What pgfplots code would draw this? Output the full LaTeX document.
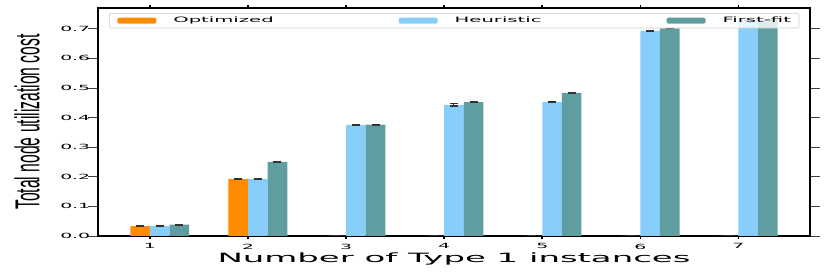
\documentclass[border=0pt]{standalone}
\usepackage{pgfplots}
\pgfplotsset{compat=1.18}
\usepackage{fontspec}
\setmainfont{DejaVu Sans}
\newfontfamily\libfont{Liberation Sans}
\usepackage{graphicx}
\newcommand\sx[1]{\scalebox{2.65}[1]{#1}}
\definecolor{copt}{HTML}{FF8C00}
\definecolor{cheu}{HTML}{87CEFA}
\definecolor{cff}{HTML}{5F9EA0}
\begin{document}
\begin{tikzpicture}[x=1pt,y=1pt]
\useasboundingbox (-98,-37) rectangle (733,236);
\begin{axis}[
  at={(0,0)}, anchor=south west,
  scale only axis, width=712pt, height=228pt,
  xmin=0.47, xmax=7.73, ymin=0, ymax=0.77,
  xtick={1,2,3,4,5,6,7},
  xticklabels={\sx{1},\sx{2},\sx{3},\sx{4},\sx{5},\sx{6},\sx{7}},
  ytick={0,0.1,0.2,0.3,0.4,0.5,0.6,0.7},
  yticklabels={\sx{0.0},\sx{0.1},\sx{0.2},\sx{0.3},\sx{0.4},\sx{0.5},\sx{0.6},\sx{0.7}},
  tick align=outside,
  tick label style={font=\fontsize{7.1}{8}\selectfont},
  xtick style={black, line width=1.6pt, /pgfplots/major tick length=3.5pt},
  ytick style={black!75, line width=0.7pt, /pgfplots/major tick length=9.5pt},
  x axis line style={black!65, line width=0.7pt},
  y axis line style={black, line width=1.6pt},
  xlabel={\sx{Number of Type 1 instances}},
  xlabel style={font=\fontsize{12.8}{14}\selectfont, at={(rel axis cs:0.5,0)}, anchor=base, yshift=-27pt, inner sep=0pt},
  ylabel={\scalebox{1}[2.2]{\libfont\fontsize{15.7}{17}\selectfont Total node utilization cost}},
  ylabel style={at={(rel axis cs:0,0.5)}, anchor=south, yshift=58pt, inner sep=0pt},
  legend columns=3,
  legend cell align=left,
  legend style={at={(0.0155,0.978)}, anchor=north west,
    fill=white, fill opacity=0.8, text opacity=1, draw opacity=1,
    draw=black!20, rounded corners=2pt, line width=0.6pt,
    inner xsep=8pt, inner ysep=3.8pt,
    font=\fontsize{7.4}{8}\selectfont,
    nodes={inner sep=0pt},
    /tikz/every odd column/.append style={column sep=17pt},
    /tikz/every even column/.append style={column sep=125pt}},
  error bars/y dir=both, error bars/y explicit,
  error bars/error bar style={black!80, line width=1pt},
  error bars/error mark options={rotate=90, mark size=4pt, line width=1.2pt, black!80},
]
\addplot[ybar, bar width=0.2, bar shift=0pt, fill=copt, draw=none,
  legend image code/.code={\fill[copt, fill opacity=1] (0pt,-3pt) rectangle (39pt,3pt);}]
  coordinates {(0.9,0.033) +- (0,0.001) (1.9,0.193) +- (0,0.001) (2.9,0) +- (0,0) (3.9,0) +- (0,0) (4.9,0) +- (0,0) (5.9,0) +- (0,0) (6.9,0) +- (0,0)};
\addlegendentry{\sx{Optimized}}
\addplot[ybar, bar width=0.2, bar shift=0pt, fill=cheu, draw=none,
  legend image code/.code={\fill[cheu, fill opacity=1] (0pt,-3pt) rectangle (39pt,3pt);}]
  coordinates {(1.1,0.033) +- (0,0.001) (2.1,0.193) +- (0,0.001) (3.1,0.375) +- (0,0.002) (4.1,0.443) +- (0,0.004) (5.1,0.453) +- (0,0.001) (6.1,0.693) +- (0,0.001) (7.1,0.728) +- (0,0.001)};
\addlegendentry{\sx{Heuristic}}
\addplot[ybar, bar width=0.2, bar shift=0pt, fill=cff, draw=none,
  legend image code/.code={\fill[cff, fill opacity=1] (0pt,-3pt) rectangle (39pt,3pt);}]
  coordinates {(1.3,0.038) +- (0,0.001) (2.3,0.250) +- (0,0.001) (3.3,0.376) +- (0,0.001) (4.3,0.452) +- (0,0.001) (5.3,0.483) +- (0,0.001) (6.3,0.701) +- (0,0.001) (7.3,0.731) +- (0,0.001)};
\addlegendentry{\sx{First-fit}}
\end{axis}
\end{tikzpicture}
\end{document}
